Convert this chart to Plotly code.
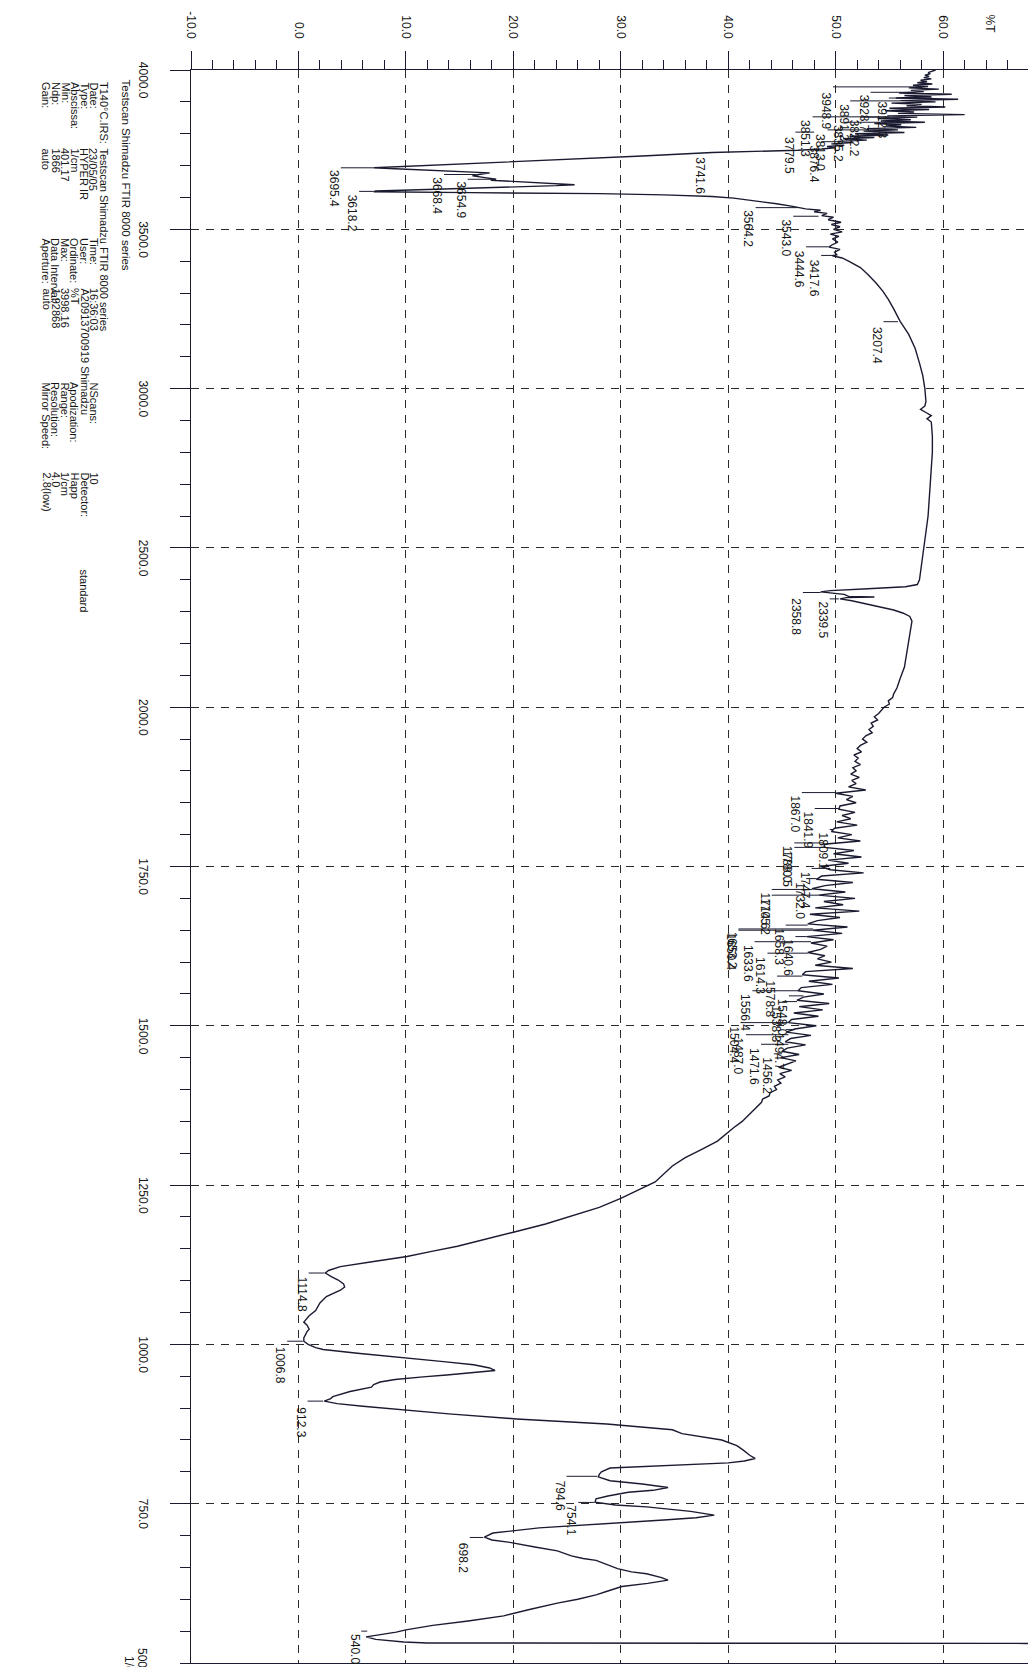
import plotly.graph_objects as go

# ---------------- spectrum data: wavenumber (1/cm) and %T ----------------
wn_a = [4000, 3996, 3992, 3988, 3984, 3980, 3976, 3972, 3968, 3964,
        3960, 3956, 3952, 3948, 3944, 3940, 3936, 3932, 3928, 3924,
        3920, 3916, 3912, 3908, 3904, 3900, 3896, 3892, 3888, 3884,
        3880, 3876, 3872, 3868, 3864, 3860, 3856, 3852, 3848, 3844,
        3840, 3836, 3832, 3828, 3824, 3820, 3816, 3812, 3808, 3804,
        3800, 3796, 3792, 3788, 3784, 3780, 3776, 3772, 3768, 3764,
        3760, 3756, 3752, 3748, 3744, 3741]
t_a = [59.3, 59.0, 58.6, 58.8, 58.3, 58.7, 58.2, 58.9, 57.9, 58.5,
       57.6, 59.0, 57.2, 58.6, 56.8, 59.6, 57.0, 58.2, 55.9, 60.8,
       56.4, 58.9, 55.6, 61.4, 56.0, 59.3, 55.2, 58.0, 56.6, 60.2,
       55.0, 58.7, 54.6, 57.3, 55.8, 62.0, 54.8, 57.6, 53.9, 57.0,
       54.2, 58.3, 53.6, 56.1, 54.7, 57.5, 52.9, 55.8, 52.6, 56.4,
       51.8, 54.9, 51.3, 53.6, 50.7, 52.9, 50.2, 51.6, 49.6, 50.8,
       49.2, 49.9, 48.7, 46.5, 41.0, 38.5]

wn_b = [3730, 3715, 3700, 3693, 3690, 3685, 3680, 3677, 3672, 3668,
        3663, 3657, 3654, 3650, 3647, 3643, 3640, 3637, 3630, 3625,
        3620, 3618, 3615, 3612, 3608, 3603, 3598, 3590, 3580, 3572,
        3564, 3560, 3555, 3550, 3543, 3538, 3530, 3522, 3515, 3508,
        3500, 3492, 3485, 3478, 3470, 3460, 3450, 3444, 3437, 3428,
        3420, 3417, 3410, 3400]
t_b = [32.0, 22.0, 12.0, 7.0, 9.0, 12.5, 16.0, 17.8, 16.8, 16.2,
       17.2, 18.4, 17.9, 20.5, 22.5, 24.5, 25.7, 24.0, 18.0, 12.0,
       7.2, 7.0, 16.0, 28.0, 34.0, 38.5, 40.5, 42.5, 44.5, 46.0,
       47.2, 48.6, 48.0, 49.2, 48.7, 49.8, 49.3, 50.5, 49.6, 50.4,
       49.8, 50.6, 49.5, 50.3, 49.7, 50.2, 49.6, 49.4, 50.4, 49.9,
       50.1, 49.7, 50.6, 51.2]

wn_c = [3380, 3358, 3330, 3305, 3280, 3250, 3211, 3170, 3126, 3080,
        3042, 3000, 2960, 2945, 2935, 2925, 2915, 2905, 2895, 2850,
        2800, 2750, 2700, 2650, 2600, 2550, 2500, 2450, 2400, 2385,
        2378, 2372, 2366, 2362, 2358, 2354, 2348, 2346, 2344, 2340,
        2334, 2325, 2316, 2305, 2295, 2285, 2270, 2250, 2230, 2200,
        2160, 2126, 2090, 2060, 2042, 2030, 2020, 2010]
t_c = [52.3, 53.0, 53.8, 54.4, 54.9, 55.4, 56.0, 56.8, 57.4, 57.8,
       58.1, 58.3, 58.4, 58.3, 57.9, 58.4, 58.9, 58.5, 58.9, 59.0,
       59.0, 58.9, 58.8, 58.7, 58.6, 58.4, 58.2, 58.0, 57.8, 57.6,
       56.5, 53.0, 49.5, 48.6, 49.8, 50.8, 51.2, 53.6, 51.0, 50.4,
       51.5, 52.8, 54.0, 55.4, 56.3, 56.9, 57.1, 57.0, 56.9, 56.8,
       56.6, 56.4, 56.0, 55.7, 55.4, 55.3, 54.9, 55.0]

wn_d = [2000, 1995, 1990, 1985, 1980, 1975, 1970, 1965, 1960, 1955,
        1950, 1945, 1940, 1935, 1930, 1925, 1920, 1915, 1910, 1905,
        1900, 1895, 1890, 1885, 1880, 1875, 1870, 1865, 1860, 1855,
        1850, 1845, 1840, 1835, 1830, 1825, 1820, 1815, 1810, 1805,
        1800, 1795, 1790, 1785, 1780, 1775, 1770, 1765, 1760, 1755,
        1750, 1745, 1740, 1735, 1730, 1725, 1720, 1715, 1710, 1705,
        1700, 1695, 1690, 1685, 1680, 1675, 1670, 1665, 1660, 1655,
        1650, 1645, 1640, 1635, 1630, 1625, 1620, 1615, 1610, 1605,
        1600, 1595, 1590, 1585, 1580, 1575, 1570, 1565, 1560, 1555,
        1550, 1545, 1540, 1535, 1530, 1525, 1520, 1515, 1510, 1505,
        1500, 1495, 1490, 1485, 1480, 1475, 1470, 1465, 1460, 1455,
        1450, 1445, 1440, 1435, 1430, 1425, 1420, 1415, 1410, 1405,
        1400]
t_d = [54.5, 54.2, 54.0, 53.6, 53.9, 53.3, 53.5, 53.1, 53.4, 52.8,
       52.5, 52.9, 52.3, 52.0, 52.4, 51.7, 52.1, 51.8, 52.3, 51.6,
       51.9, 51.4, 52.2, 51.5, 51.9, 51.2, 52.8, 50.0, 51.6, 51.0,
       51.9, 50.4, 50.3, 51.8, 50.6, 51.4, 50.1, 52.0, 49.9, 49.6,
       51.5, 50.2, 52.3, 48.9, 49.0, 51.7, 49.8, 52.4, 49.3, 51.2,
       48.6, 49.5, 52.6, 48.7, 48.2, 51.6, 49.0, 47.8, 50.9, 48.4,
       51.8, 48.9, 50.7, 48.1, 52.2, 47.6, 50.4, 48.3, 47.4, 51.1,
       47.9, 50.6, 47.3, 49.8, 47.7, 49.2, 48.6, 47.4, 49.0, 48.3,
       49.6, 48.1, 51.6, 47.2, 46.9, 50.3, 47.5, 49.7, 46.8, 46.5,
       48.9, 47.0, 46.4, 49.4, 46.6, 48.8, 46.1, 48.4, 45.9, 45.6,
       48.2, 46.2, 45.4, 47.7, 45.8, 45.3, 47.2, 45.5, 45.0, 46.6,
       44.9, 46.3, 45.4, 44.7, 45.9, 44.8, 45.3, 44.6, 44.9, 44.3,
       44.5]

wn_e = [1395, 1390, 1385, 1380, 1370, 1360, 1350, 1340, 1330, 1319,
        1305, 1293, 1280, 1268, 1255, 1242, 1229, 1215, 1202, 1189,
        1176, 1165, 1154, 1146, 1138, 1130, 1122, 1116, 1112, 1106,
        1101, 1095, 1090, 1085, 1080, 1075, 1065, 1053, 1045, 1038,
        1035, 1030, 1024, 1020, 1016, 1010, 1005, 1000, 995, 992,
        986, 979, 973, 968, 963, 959, 955, 952, 949, 945,
        941, 937, 933, 929, 926, 918, 915, 911, 907, 903,
        899]
t_e = [43.9, 43.8, 43.2, 43.1, 42.5, 41.9, 41.3, 40.5, 39.8, 39.0,
       37.4, 36.0, 34.8, 34.0, 33.2, 31.6, 30.0, 28.0, 25.6, 23.0,
       20.0, 17.3, 14.8, 12.4, 10.1, 7.0, 3.9, 2.8, 2.5, 3.1,
       3.7, 4.2, 4.3, 3.9, 3.2, 2.6, 2.0, 1.6, 1.0, 0.6,
       0.5, 0.8, 1.0, 0.8, 0.7, 0.5, 0.5, 0.9, 1.6, 2.3,
       5.5, 10.1, 13.5, 16.3, 17.8, 18.3, 16.0, 13.8, 11.6, 9.0,
       7.6, 7.0, 6.8, 5.8, 4.8, 3.2, 3.0, 2.4, 3.6, 6.0,
       8.5]

wn_f = [891, 883, 875, 866, 860, 850, 841, 834, 826, 821,
        817, 814, 810, 806, 800, 796, 792, 786, 781, 775.5,
        771, 768, 762, 757.6, 752.5, 748, 745, 738, 732, 728,
        724.5, 718, 712, 704, 697.5, 693, 689, 682, 676, 668,
        664, 661, 654, 648, 643, 640, 634, 630, 625, 620,
        613, 607, 600, 594, 584, 574, 566, 559, 552, 548.5,
        541, 537, 533, 531.5, 531, 530.5, 500]
t_f = [14.0, 20.3, 28.7, 34.8, 35.7, 39.4, 40.8, 41.4, 42.0, 42.5,
       41.5, 40.0, 35.0, 29.0, 28.2, 28.0, 27.9, 29.0, 32.0, 34.4,
       33.0, 30.7, 28.8, 27.7, 27.6, 29.5, 32.4, 36.5, 38.7, 37.0,
       34.0, 28.0, 22.4, 18.1, 17.3, 18.0, 19.8, 22.0, 24.1, 25.4,
       26.5, 27.7, 28.8, 29.7, 31.0, 32.4, 33.8, 34.4, 32.5, 30.1,
       28.8, 27.7, 26.0, 24.1, 21.5, 19.1, 15.8, 12.5, 10.0, 9.1,
       6.3, 7.2, 9.8, 12.0, 40.0, 90.0, 90.0]

wavenumber = wn_a + wn_b + wn_c + wn_d + wn_e + wn_f
transmittance = t_a + t_b + t_c + t_d + t_e + t_f

# ---------------- peak labels ----------------
peak_text = ["3948.9", "3928.7", "3912.3", "3891.2", "3851.3", "3822.2", "3835.2", "3813.0",
             "3876.4", "3779.5", "3741.6", "3695.4", "3668.4", "3654.9", "3618.2", "3564.2",
             "3543.0", "3444.6", "3417.6", "3207.4", "2358.8", "2339.5",
             "1867.0", "1841.9", "1809.1", "1788.0", "1780.5", "1747.4", "1732.0", "1714.6",
             "1705.2", "1658.3", "1640.6", "1653.2", "1650.4", "1633.6", "1614.3", "1578.8",
             "1548.0", "1538.3", "1556.4", "1504.4", "1494.7", "1487.0", "1471.6", "1456.2",
             "1114.8", "1006.8", "912.3", "794.6", "754.1", "698.2", "540.0"]
peak_wn = [3947, 3930, 3912, 3903, 3853, 3852, 3836, 3812,
           3775, 3805, 3741, 3693, 3672, 3657, 3619, 3568,
           3541, 3445, 3418, 3210, 2360, 2340,
           1866, 1841, 1808, 1787, 1780, 1747, 1731, 1714,
           1705, 1658, 1640, 1652, 1650, 1632, 1614, 1578,
           1547, 1538, 1555, 1505, 1494, 1486, 1471, 1456,
           1112, 1005, 911, 793, 752, 697, 550]
peak_t = [58.0, 57.5, 59.0, 56.0, 55.0, 56.5, 55.5, 53.8,
          50.5, 48.0, 38.5, 7.0, 16.5, 18.0, 7.0, 46.5,
          48.4, 49.4, 50.0, 55.8, 48.6, 50.3,
          50.0, 50.3, 49.8, 48.9, 49.0, 49.5, 48.2, 47.8,
          48.4, 47.4, 47.3, 47.9, 47.9, 47.7, 47.4, 46.9,
          47.0, 46.4, 46.5, 45.6, 46.2, 45.6, 45.6, 45.0,
          2.4, 0.4, 2.3, 27.8, 27.5, 17.2, 6.4]
label_wn = [3937, 3928, 3906, 3900, 3849, 3849, 3833, 3805,
            3770, 3796, 3733, 3691, 3671, 3656, 3616, 3566,
            3538, 3440, 3412, 3200, 2347, 2337,
            1864, 1839, 1806, 1786, 1779, 1745, 1729, 1712,
            1703, 1656, 1639, 1651, 1648, 1630, 1611, 1575,
            1545, 1535, 1553, 1502, 1491, 1484, 1469, 1453,
            1109, 1000, 905, 790, 750, 692, 548]
label_t = [49.1, 52.6, 54.3, 50.7, 47.2, 51.7, 50.2, 48.6,
           48.0, 45.6, 37.4, 3.3, 12.9, 15.1, 5.0, 41.9,
           45.4, 46.6, 48.0, 53.8, 46.3, 48.8,
           46.2, 47.4, 48.8, 45.5, 45.5, 47.1, 46.6, 43.4,
           43.4, 44.7, 45.6, 40.3, 40.3, 41.8, 43.0, 43.9,
           45.0, 44.4, 41.6, 40.5, 44.7, 41.0, 42.4, 43.6,
           0.3, -1.7, 0.2, 24.3, 25.4, 15.3, 5.2]

# ---------------- axis tick labels ----------------
t_ticks = [-10, 0, 10, 20, 30, 40, 50, 60]
t_tick_text = ["-10.0", "0.0", "10.0", "20.0", "30.0", "40.0", "50.0", "60.0"]
wn_ticks = [4000, 3500, 3000, 2500, 2000, 1750, 1500, 1250, 1000, 750]
wn_tick_text = ["4000.0", "3500.0", "3000.0", "2500.0", "2000.0", "1750.0",
                "1500.0", "1250.0", "1000.0", "750.0"]

# ---------------- header block ----------------
title_line = "Testscan Shimadzu FTIR 8000 series"
sample_line = ["T140°C.IRS:", "Testscan Shimadzu FTIR 8000 series"]
meta_rows = [
    ["Date:", "23/05/05", "Time:", "16:36:03", "NScans:", "10", ""],
    ["Type:", "HYPER IR", "User:", "A20913700919 Shimadzu", "", "Detector:", "standard"],
    ["Abscissa:", "1/cm", "Ordinate:", "%T", "Apodization:", "Happ", ""],
    ["Min:", "401.17", "Max:", "3998.16", "Range:", "1/cm", ""],
    ["Ndp:", "1866", "Data Interval:", "1.92868", "Resolution:", "4.0", ""],
    ["Gain:", "auto", "Aperture:", "auto", "Mirror Speed:", "2.8(low)", ""],
]


def to_u(w):
    """Piecewise-linear wavenumber scale of the instrument: 500/div above 2000, 250/div below."""
    if w >= 2000:
        return (4000.0 - w) / 500.0
    return 4.0 + (2000.0 - w) / 250.0


# ---------------- figure geometry ----------------
W, H = 1028, 1667
L, T, R, B = 191, 70, 0, 4
PW, PH = W - L - R, H - T - B
T_MIN, T_MAX = -10, 67.9
INK = "#1a1b30"
TXT = "#161616"
FONT = "Liberation Sans, Arial, sans-serif"


def px_x(px):
    return (px - L) / PW


def px_y(py):
    return (T + PH - py) / PH


fig = go.Figure()

fig.add_trace(go.Scatter(
    x=transmittance, y=[to_u(w) for w in wavenumber], mode="lines",
    line=dict(color=INK, width=1.4), hoverinfo="skip", showlegend=False))

# leader lines from labels to peaks
lx, ly = [], []
for w, tp, tl in zip(peak_wn, peak_t, label_t):
    lx += [tl + 0.65, tp, None]
    ly += [to_u(w), to_u(w), None]
fig.add_trace(go.Scatter(x=lx, y=ly, mode="lines", line=dict(color=INK, width=1),
                         hoverinfo="skip", showlegend=False))

for txt, w, tl in zip(peak_text, label_wn, label_t):
    fig.add_annotation(x=tl, y=to_u(w), xref="x", yref="y", text=txt, textangle=90,
                       showarrow=False, xanchor="center", yanchor="top",
                       font=dict(family=FONT, size=12, color=TXT))


# header text (rotated like the scanned page)
def add_text(px, py, text, size=11):
    fig.add_annotation(x=px_x(px), y=px_y(py), xref="paper", yref="paper", text=text,
                       textangle=90, showarrow=False, xanchor="center", yanchor="top",
                       font=dict(family=FONT, size=size, color=TXT))


add_text(126, 77, title_line, 11.5)
add_text(104, 80, sample_line[0], 11)
add_text(104, 146, sample_line[1], 11)
col_y = [80, 146, 236, 286, 380, 470, 567]
row_x = [93.5, 84, 74.5, 65, 55.5, 46]
for rx, row in zip(row_x, meta_rows):
    for cy, txt in zip(col_y, row):
        if txt:
            add_text(rx, cy, txt, 11)

# last wavenumber label and unit, cut by the page edge like the scan
add_text(142, 1646, "500.0", 12)
add_text(129, 1654, "1/cm", 12)
add_text(990, 12, "%T", 12)

grid_dash = "8px,7px"
fig.update_xaxes(
    range=[T_MIN, T_MAX], side="top", tickmode="array", tickvals=t_ticks, ticktext=t_tick_text,
    tickangle=90, ticks="outside", ticklen=18, tickwidth=1, tickcolor=INK,
    ticklabelstandoff=8, tickfont=dict(family=FONT, size=12, color=TXT),
    showline=True, linecolor=INK, linewidth=1.3, mirror=True,
    showgrid=True, gridcolor="#2a2a2a", gridwidth=1, griddash=grid_dash, zeroline=False,
    minor=dict(tickmode="linear", tick0=-10, dtick=2, ticks="outside", ticklen=9,
               tickcolor=INK, showgrid=False),
    fixedrange=True)
fig.update_yaxes(
    range=[10, 0], tickmode="array", tickvals=[to_u(w) for w in wn_ticks], ticktext=wn_tick_text,
    tickangle=90, ticks="outside", ticklen=20, tickwidth=1, tickcolor=INK,
    ticklabelstandoff=16, ticklabelshift=-12, tickfont=dict(family=FONT, size=12, color=TXT),
    showline=True, linecolor=INK, linewidth=1.3,
    showgrid=True, gridcolor="#2a2a2a", gridwidth=1, griddash=grid_dash, zeroline=False,
    minor=dict(tickmode="linear", tick0=0, dtick=0.2, ticks="outside", ticklen=10,
               tickcolor=INK, showgrid=False),
    fixedrange=True)

fig.update_layout(
    width=W, height=H, autosize=False,
    margin=dict(l=L, r=R, t=T, b=B, pad=0),
    paper_bgcolor="white", plot_bgcolor="white", showlegend=False,
)

fig.write_html("out.html", config={"displayModeBar": False},
               post_script="document.body.style.margin='0px';document.body.style.padding='0px';")
